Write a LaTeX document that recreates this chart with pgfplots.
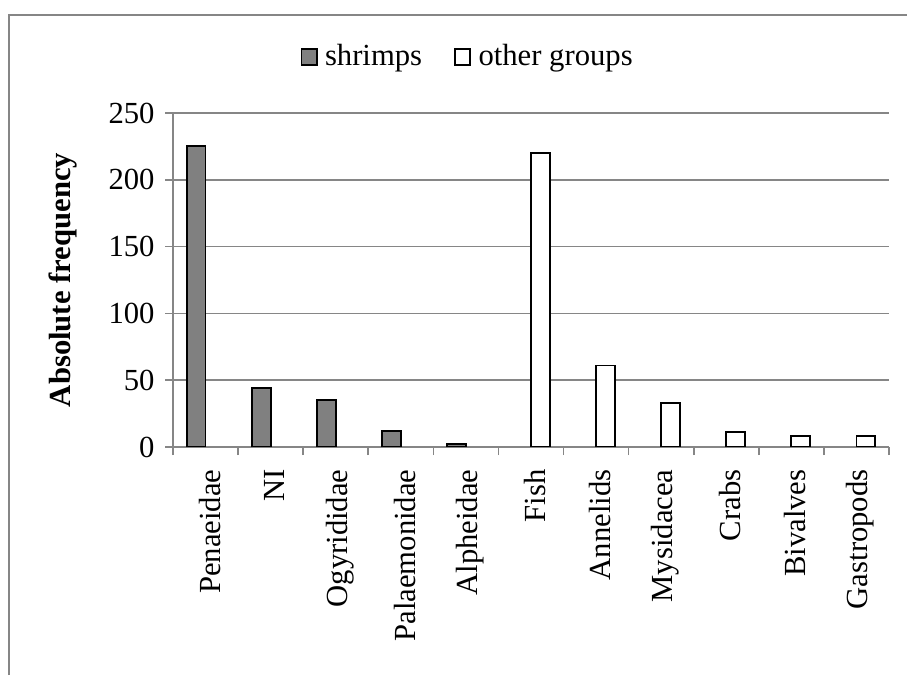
\documentclass[border=0pt]{standalone}
\usepackage{pgfplots}
\pgfplotsset{compat=1.18}
\usepackage{fontspec}
\setmainfont{Liberation Serif}
\definecolor{gridgray}{HTML}{868686}
\definecolor{barfill}{HTML}{808080}
\newcommand\cf{\fontsize{23}{27}\selectfont}
\begin{document}
\cf
\begin{tikzpicture}
\useasboundingbox (0,0) rectangle (680.25pt,506.25pt);
\draw[gridgray, line width=1.2pt] (6.75pt,0pt) -- (6.75pt,495pt) -- (680.25pt,495pt);
\begin{axis}[
  at={(129.75pt,171pt)}, anchor=south west,
  scale only axis, width=537pt, height=250.5pt,
  xmin=-0.5, xmax=10.5, ymin=0, ymax=250,
  axis x line*=bottom, axis y line*=left,
  axis line style={gridgray, line width=1.2pt},
  ytick={0,50,...,250},
  ymajorgrids, grid style={gridgray, line width=1.2pt},
  xtick={0,...,10},
  xticklabels={Penaeidae,NI,Ogyrididae,Palaemonidae,Alpheidae,Fish,Annelids,Mysidacea,Crabs,Bivalves,Gastropods},
  minor xtick={-0.5,0.5,...,10.5},
  tick align=outside, major tick length=6pt, minor tick length=6pt,
  tick style={gridgray, line width=1.2pt},
  every major x tick/.append style={draw=none},
  xticklabel style={rotate=90, anchor=east, font=\cf, yshift=-3pt, xshift=-3pt},
  yticklabel style={font=\cf},
  /pgf/number format/assume math mode=true,
  ylabel={\textbf{Absolute frequency}},
  ylabel style={at={(axis description cs:-0.1536,0.5)}, anchor=center, font=\cf},
  legend style={at={(axis description cs:0.412,1.1677)}, anchor=center, draw=none, fill=none,
     legend columns=2, font=\cf,
     /tikz/every even column/.append style={column sep=22pt}},
  mylegend/.style={legend image code/.code={\draw[##1, line width=1.2pt] (0pt,-6pt) rectangle (11.5pt,6pt); \path (15pt,0pt);}},
]
\addplot[ybar, bar width=13.95pt, bar shift=-6.975pt, fill=barfill, draw=black, line width=1.4pt, mylegend]
  coordinates {(0,225) (1,44) (2,35) (3,12) (4,2)};
\addlegendentry{shrimps}
\addplot[ybar, bar width=13.95pt, bar shift=6.975pt, fill=white, draw=black, line width=1.4pt, mylegend]
  coordinates {(5,220) (6,61) (7,33) (8,11) (9,8) (10,8)};
\addlegendentry{other groups}
\end{axis}
\end{tikzpicture}
\end{document}
